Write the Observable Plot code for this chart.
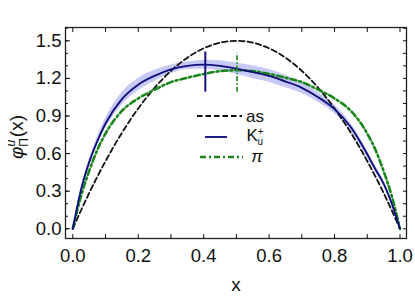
<!DOCTYPE html>
<html>
<head>
<meta charset="utf-8">
<script src="https://cdn.jsdelivr.net/npm/d3@7"></script>
<script src="https://cdn.jsdelivr.net/npm/@observablehq/plot@0.6"></script>
<style>
  html, body { margin: 0; padding: 0; background: #fff; }
  svg text { font-family: "Liberation Sans", Arial, sans-serif; }
</style>
</head>
<body>
<div id="chart"></div>
<script>
const xs    = [0,0.025,0.05,0.075,0.1,0.15,0.2,0.25,0.3,0.35,0.4,0.45,0.5,0.55,0.6,0.65,0.7,0.75,0.8,0.85,0.9,0.925,0.95,0.975,1];
const asym  = [0,0.146,0.285,0.416,0.54,0.765,0.96,1.125,1.26,1.365,1.44,1.485,1.5,1.485,1.44,1.365,1.26,1.125,0.96,0.765,0.54,0.416,0.285,0.146,0];
const kaon  = [0,0.31,0.53,0.70,0.84,1.035,1.15,1.22,1.272,1.30,1.31,1.30,1.278,1.25,1.22,1.175,1.125,1.05,0.955,0.81,0.595,0.475,0.36,0.2,0];
const kLow  = [0,0.30,0.51,0.67,0.80,0.985,1.10,1.175,1.237,1.27,1.275,1.26,1.233,1.20,1.17,1.125,1.08,1.01,0.92,0.78,0.565,0.45,0.34,0.19,0];
const kHigh = [0,0.32,0.55,0.73,0.88,1.085,1.20,1.265,1.307,1.33,1.345,1.34,1.323,1.30,1.27,1.225,1.17,1.09,0.99,0.84,0.625,0.50,0.38,0.21,0];
const pion  = [0,0.26,0.46,0.63,0.76,0.94,1.04,1.11,1.17,1.205,1.235,1.258,1.265,1.258,1.235,1.205,1.17,1.11,1.04,0.94,0.76,0.63,0.46,0.26,0];

// peak markers (vertical bars)
const kPeak = [{x: 0.405, lo: 1.09, hi: 1.41}];
const pPeak = [{x: 0.502, lo: 1.09, hi: 1.40}];

const xLabelTicks = [0,0.2,0.4,0.6,0.8,1.0];
const xMinorTicks = [0,0.1,0.2,0.3,0.4,0.5,0.6,0.7,0.8,0.9,1.0];
const yLabelTicks = [0,0.3,0.6,0.9,1.2,1.5];
const yMinorTicks = [0,0.1,0.2,0.3,0.4,0.5,0.6,0.7,0.8,0.9,1.0,1.1,1.2,1.3,1.4,1.5,1.6];

const rows = xs.map((x, i) => ({x, as: asym[i], k: kaon[i], lo: kLow[i], hi: kHigh[i], p: pion[i]}));

const navy = "#10107e";
const green = "#1a851a";
const fmt = d3.format(".1f");

const chart = Plot.plot({
  width: 415,
  height: 299,
  marginLeft: 65,
  marginTop: 27,
  marginRight: 9,
  marginBottom: 61,
  x: {domain: [-0.0223, 1.0199]},
  y: {domain: [-0.0774, 1.606]},
  style: {fontFamily: "Liberation Sans, Arial, sans-serif", color: "#111"},
  marks: [
    Plot.areaY(rows, {x: "x", y1: "lo", y2: "hi", fill: "#c9c9f7", curve: "monotone-x"}),
    Plot.line(rows, {x: "x", y: "as", stroke: "#111", strokeWidth: 1.8, strokeDasharray: "5.5,3", curve: "monotone-x"}),
    Plot.line(rows, {x: "x", y: "p", stroke: green, strokeWidth: 2.6, strokeDasharray: "6,3,2,3", curve: "monotone-x"}),
    Plot.line(rows, {x: "x", y: "k", stroke: navy, strokeWidth: 1.9, curve: "monotone-x"}),
    Plot.ruleX(kPeak, {x: "x", y1: "lo", y2: "hi", stroke: navy, strokeWidth: 2}),
    Plot.ruleX(pPeak, {x: "x", y1: "lo", y2: "hi", stroke: green, strokeWidth: 1.6, strokeDasharray: "5,2,1.5,2"}),
    Plot.frame({stroke: "#222", strokeWidth: 1.3}),
    // bottom
    Plot.axisX(xLabelTicks, {anchor: "bottom", tickSize: 0, tickPadding: 10, tickFormat: fmt, fontSize: 18.5, label: null}),
    Plot.axisX(xMinorTicks, {anchor: "bottom", tickSize: -4, tickFormat: () => "", label: null}),
    // top
    Plot.axisX(xMinorTicks, {anchor: "top", tickSize: -4, tickFormat: () => "", label: null}),
    // left
    Plot.axisY(yLabelTicks, {anchor: "left", tickSize: 0, tickPadding: 4, tickFormat: fmt, fontSize: 18.5, label: null}),
    Plot.axisY(yMinorTicks, {anchor: "left", tickSize: -3, tickFormat: () => "", label: null}),
    Plot.axisY(yLabelTicks, {anchor: "left", tickSize: -5, tickFormat: () => "", label: null}),
    // right
    Plot.axisY(yMinorTicks, {anchor: "right", tickSize: -4, tickFormat: () => "", label: null})
  ]
});

document.getElementById("chart").appendChild(chart);

const svg = d3.select(chart);

// y-axis label: φ^u_Π(x)
const yl = svg.append("text")
  .attr("transform", "translate(23,137) rotate(-90)")
  .attr("text-anchor", "middle")
  .attr("font-size", 19)
  .attr("fill", "#111");
yl.append("tspan").attr("font-style", "italic").text("φ");
yl.append("tspan").attr("font-style", "italic").attr("font-size", 12).attr("dy", -8).text("u");
yl.append("tspan").attr("font-size", 12).attr("dx", -7).attr("dy", 13).text("Π");
yl.append("tspan").attr("dx", 1).attr("dy", -5).text("(x)");

// x-axis label
svg.append("text")
  .attr("x", 236).attr("y", 291)
  .attr("text-anchor", "middle")
  .attr("font-size", 19)
  .attr("fill", "#111")
  .text("x");

// legend
const lg = svg.append("g");
lg.append("line").attr("x1", 197).attr("x2", 242).attr("y1", 116).attr("y2", 116)
  .attr("stroke", "#111").attr("stroke-width", 1.8).attr("stroke-dasharray", "5.5,3");
lg.append("text").attr("x", 255).attr("y", 122).attr("font-size", 17).attr("fill", "#111").text("as");

lg.append("line").attr("x1", 205).attr("x2", 227).attr("y1", 137).attr("y2", 137)
  .attr("stroke", navy).attr("stroke-width", 1.9);
const kt = lg.append("text").attr("x", 255).attr("y", 141).attr("font-size", 17).attr("fill", "#111");
kt.append("tspan").text("K");
kt.append("tspan").attr("font-size", 10).attr("dy", -6).text("+");
kt.append("tspan").attr("font-size", 10).attr("dx", -6).attr("dy", 10).text("u");

lg.append("line").attr("x1", 200).attr("x2", 243).attr("y1", 157).attr("y2", 157)
  .attr("stroke", green).attr("stroke-width", 2.6).attr("stroke-dasharray", "6,3,2,3");
lg.append("text").attr("x", 257).attr("y", 162).attr("font-size", 17).attr("font-style", "italic").attr("fill", "#111").text("π");
</script>
</body>
</html>
